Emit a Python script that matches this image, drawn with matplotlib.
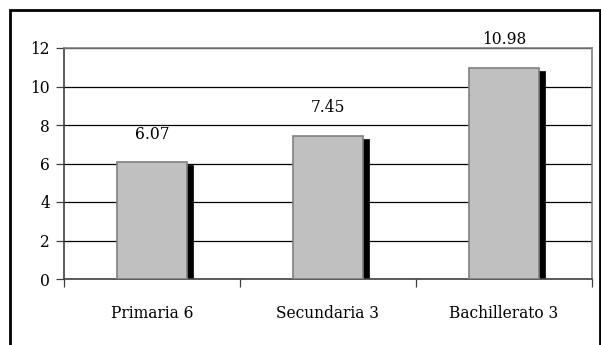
import matplotlib
matplotlib.use("Agg")
import matplotlib.pyplot as plt
import matplotlib.transforms as mtransforms
from matplotlib.patches import Rectangle

categories = ["Primaria 6", "Secundaria 3", "Bachillerato 3"]
values = [6.07, 7.45, 10.98]
value_labels = ["6.07", "7.45", "10.98"]
y_ticks = [0, 2, 4, 6, 8, 10, 12]

plt.rcParams["font.family"] = ["DejaVu Serif"]
FS = 11.2

W, H = 601, 345
fig = plt.figure(figsize=(W / 100, H / 100), dpi=100)

# outer frame around the chart
fig.patches.append(Rectangle((10 / W, -0.05), (600 - 10) / W, 1.05 - 10 / H,
                             transform=fig.transFigure, fill=False,
                             edgecolor="black", linewidth=2.0))

ax = fig.add_axes([64 / W, 1 - 279 / H, (592 - 64) / W, (279 - 48) / H])
x = list(range(len(categories)))
bar_w = 0.40

# drop shadow behind each bar
shadow_tr = ax.transData + mtransforms.ScaledTranslation(6 / 100, -3 / 100, fig.dpi_scale_trans)
ax.bar(x, values, width=bar_w, color="black", edgecolor="black", linewidth=0.5,
       transform=shadow_tr, zorder=2)
ax.bar(x, values, width=bar_w, color="#C0C0C0", edgecolor="#808080", linewidth=1.2, zorder=3)

for xi, v, lab in zip(x, values, value_labels):
    ax.annotate(lab, (xi, v), xytext=(0, 20), textcoords="offset points",
                ha="center", va="center", fontsize=FS)

ax.set_xlim(-0.5, len(categories) - 0.5)
ax.set_ylim(0, 12)
ax.set_yticks(y_ticks)
ax.set_yticklabels([str(t) for t in y_ticks], fontsize=FS)
ax.yaxis.grid(True, color="black", linewidth=0.9, zorder=1)
ax.set_axisbelow(True)

# category boundaries as tick marks, names centered under each bar
ax.set_xticks([i - 0.5 for i in range(len(categories) + 1)])
ax.set_xticklabels([])
ax.set_xticks(x, minor=True)
ax.set_xticklabels(categories, minor=True, fontsize=FS)
ax.tick_params(axis="x", which="major", length=6, width=0.9, color="#404040", direction="out")
ax.tick_params(axis="x", which="minor", length=0, pad=19)
ax.tick_params(axis="y", length=6, width=0.9, color="#404040", pad=4)

for side in ["top", "right"]:
    ax.spines[side].set_color("#808080")
    ax.spines[side].set_linewidth(1.2)
for side in ["left", "bottom"]:
    ax.spines[side].set_color("#404040")
    ax.spines[side].set_linewidth(1.2)

fig.savefig("out.png", dpi=100)
